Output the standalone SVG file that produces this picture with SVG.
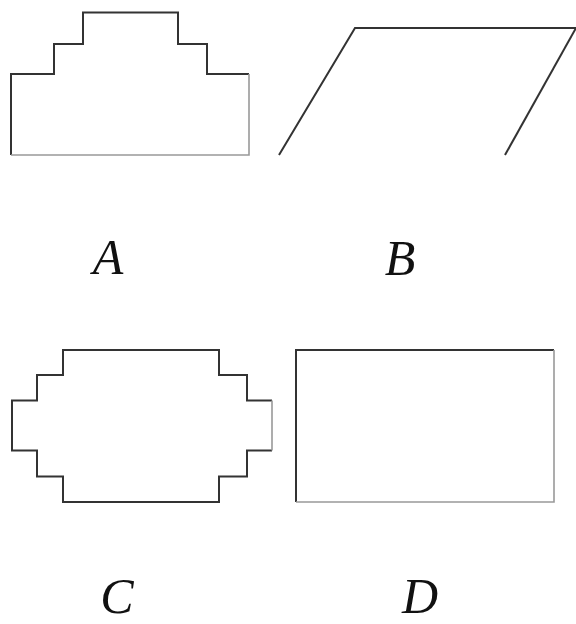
<svg xmlns="http://www.w3.org/2000/svg" width="576" height="624" viewBox="0 0 576 624">
<style>
.s{fill:none;stroke:#333;stroke-width:2;stroke-linejoin:miter}
.l{fill:none;stroke:#999;stroke-width:1.6}
.t{font-family:"Liberation Serif","Times New Roman","DejaVu Serif",serif;font-style:italic;font-size:50px;fill:#111;text-anchor:middle}
</style>
<rect width="576" height="624" fill="#fff"/>
<g id="shapeA">
<path class="s" d="M11,155 V74 H54 V44 H83 V12.5 H178 V44 H207 V74 H249"/>
<path class="l" d="M249,74 V155 H11"/>
</g>
<g id="shapeB">
<path class="s" d="M279,155 L355,28 H576"/>
<path class="s" d="M576,28 L505,155"/>
</g>
<g id="shapeC">
<path class="s" d="M272,400.5 H247 V375 H219 V350 H63 V375 H37 V400.5 H12 V450.5 H37 V476.5 H63 V502 H219 V476.5 H247 V450.5 H272"/>
<path class="l" d="M272,400.5 V450.5"/>
</g>
<g id="shapeD">
<path class="s" d="M296,502 V350 H554"/>
<path class="l" d="M554,350 V502 H296"/>
</g>
<g id="labels">
<text class="t" x="108" y="274">A</text>
<text class="t" x="400" y="275">B</text>
<text class="t" x="117" y="613">C</text>
<text class="t" x="420" y="613">D</text>
</g>
</svg>
